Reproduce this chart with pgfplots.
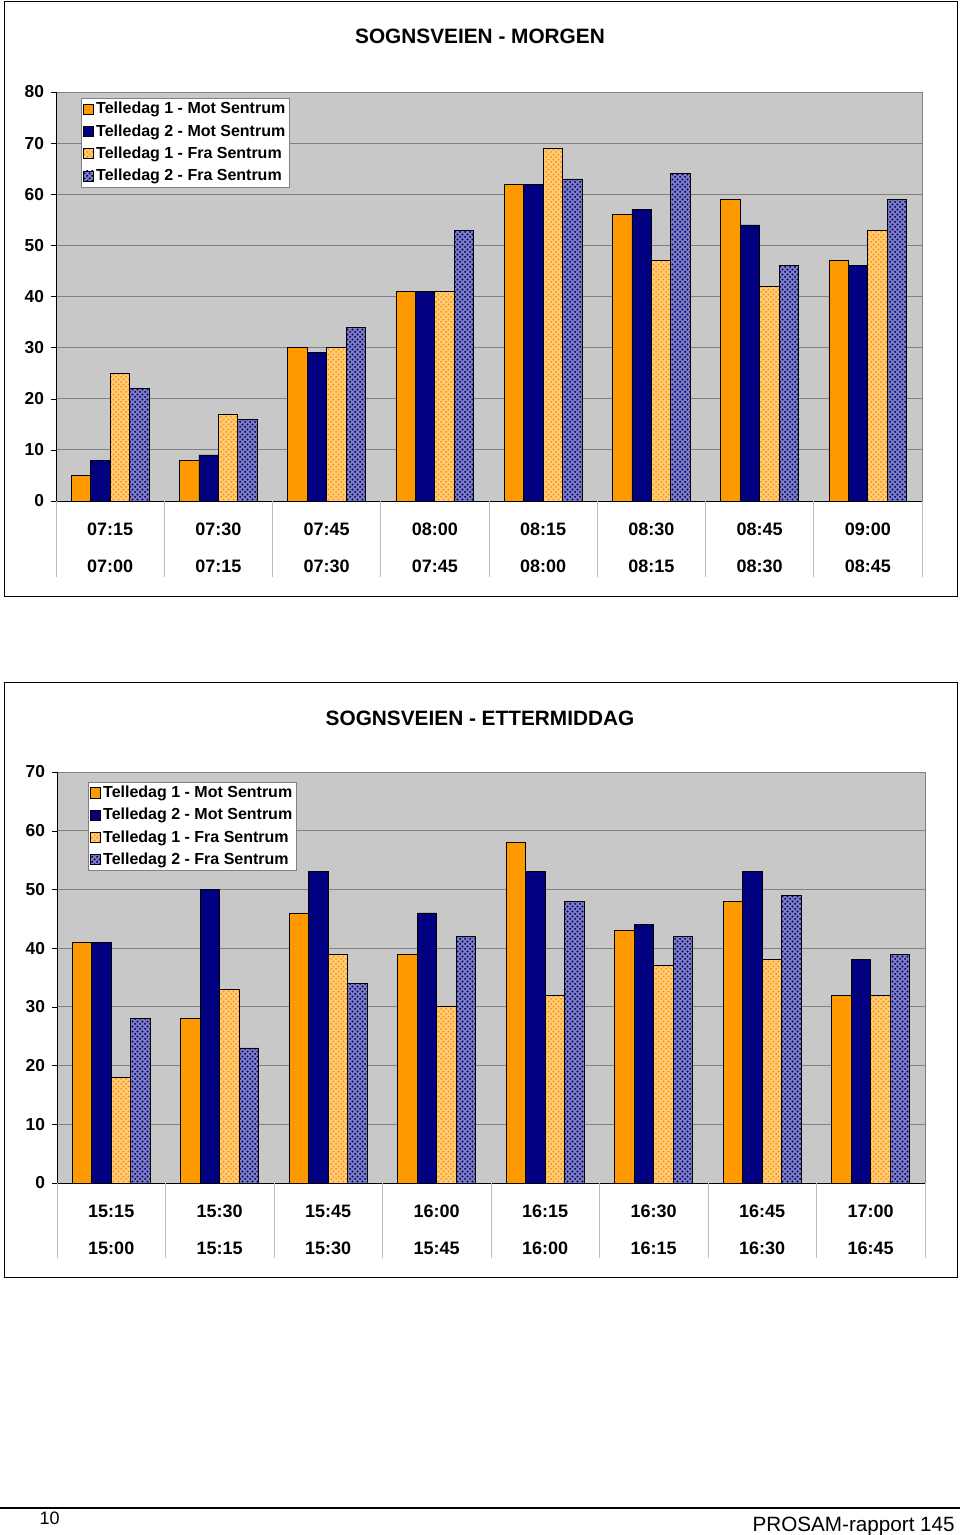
\documentclass[border=0pt]{standalone}
\usepackage{fontspec}
\setmainfont{Liberation Sans}
\usepackage{pgfplots}
\pgfplotsset{compat=1.18}
\usetikzlibrary{patterns.meta}
\definecolor{orangeX}{RGB}{255,153,0}
\definecolor{navyX}{RGB}{0,0,128}
\definecolor{bgX}{RGB}{200,200,200}
\definecolor{sepX}{RGB}{190,190,190}
\tikzdeclarepattern{
  name=mydots,
  type=uncolored,
  bounding box={(0pt,0pt) and (3.6pt,3.6pt)},
  tile size={(3.6pt,3.6pt)},
  code={\fill (0.9pt,0.9pt) circle (0.88pt); \fill (2.7pt,2.7pt) circle (0.88pt);}
}
\pgfplotsset{
  sqlegend/.style={legend image code/.code={\draw[##1] (0pt,-3.8pt) rectangle (7.6pt,3.8pt);}},
  mot1/.style={fill=orangeX, draw=black, line width=0.6pt},
  mot2/.style={fill=navyX, draw=black, line width=0.6pt},
  fra1/.style={fill=orangeX!50, draw=black, line width=0.6pt, postaction={pattern=mydots, pattern color=orangeX}},
  fra2/.style={fill=navyX!50, draw=black, line width=0.6pt, postaction={pattern=mydots, pattern color=navyX}},
  prosam/.style={
    scale only axis,
    ybar=0pt, bar width=14.6pt,
    xmin=-0.5, xmax=7.5, ymin=0,
    xtick={0,...,7},
    major x tick style={draw=none},
    ytick pos=left,
    axis background/.style={fill=bgX},
    axis line style={draw=gray},
    ymajorgrids, grid style={gray, line width=0.6pt},
    ytick style={black},
    tick align=outside, major tick length=4pt,
    clip=false,
    /pgf/number format/assume math mode=true,
    yticklabel style={font=\bfseries\fontsize{13}{15}\selectfont, xshift=-1.5pt},
    xticklabel style={align=center, font=\bfseries\fontsize{13.5}{27.75}\selectfont, yshift=-8.75pt},
    legend cell align=left,
    legend style={draw=gray, fill=white, font=\bfseries\fontsize{12}{14}\selectfont,
      inner sep=1.5pt, row sep=3.5pt, nodes={inner sep=1.5pt}},
    every axis plot/.append style={sqlegend},
  }
}
\begin{document}
\begin{tikzpicture}[x=0.75pt,y=0.75pt]
\path[use as bounding box] (0,0) rectangle (960,1535);
% frames
\draw[line width=0.75pt] (4,1533) rectangle (957,938);
\draw[line width=0.75pt] (4,852) rectangle (957,257);
% titles
\node[font=\bfseries\fontsize{15.6}{18}\selectfont] at (480,1499) {SOGNSVEIEN - MORGEN};
\node[font=\bfseries\fontsize{15.6}{18}\selectfont] at (480,817) {SOGNSVEIEN - ETTERMIDDAG};

\begin{axis}[prosam,
  at={(42pt,775.5pt)}, anchor=south west,
  width=649.5pt, height=306.75pt,
  ymax=80, ytick={0,10,...,80},
  xticklabels={{07:15\\07:00},{07:30\\07:15},{07:45\\07:30},{08:00\\07:45},{08:15\\08:00},{08:30\\08:15},{08:45\\08:30},{09:00\\08:45}},
  legend style={at={(0.0289,0.985)}, anchor=north west},
]
\addplot[mot1] coordinates {(0,5)(1,8)(2,30)(3,41)(4,62)(5,56)(6,59)(7,47)};
\addplot[mot2] coordinates {(0,8)(1,9)(2,29)(3,41)(4,62)(5,57)(6,54)(7,46)};
\addplot[fra1] coordinates {(0,25)(1,17)(2,30)(3,41)(4,69)(5,47)(6,42)(7,53)};
\addplot[fra2] coordinates {(0,22)(1,16)(2,34)(3,53)(4,63)(5,64)(6,46)(7,59)};
\legend{Telledag 1 - Mot Sentrum,Telledag 2 - Mot Sentrum,Telledag 1 - Fra Sentrum,Telledag 2 - Fra Sentrum}
\draw[black] (axis cs:-0.5,0) -- (axis cs:-0.5,80);
\draw[black] (axis cs:-0.5,0) -- (axis cs:7.5,0);
\draw[sepX] (axis cs:-0.5,0) -- ++(0pt,-57pt);
\draw[sepX] (axis cs:0.5,0) -- ++(0pt,-57pt);
\draw[sepX] (axis cs:1.5,0) -- ++(0pt,-57pt);
\draw[sepX] (axis cs:2.5,0) -- ++(0pt,-57pt);
\draw[sepX] (axis cs:3.5,0) -- ++(0pt,-57pt);
\draw[sepX] (axis cs:4.5,0) -- ++(0pt,-57pt);
\draw[sepX] (axis cs:5.5,0) -- ++(0pt,-57pt);
\draw[sepX] (axis cs:6.5,0) -- ++(0pt,-57pt);
\draw[sepX] (axis cs:7.5,0) -- ++(0pt,-57pt);
\end{axis}

\begin{axis}[prosam,
  at={(42.75pt,264pt)}, anchor=south west,
  width=651pt, height=308.25pt,
  ymax=70, ytick={0,10,...,70},
  xticklabels={{15:15\\15:00},{15:30\\15:15},{15:45\\15:30},{16:00\\15:45},{16:15\\16:00},{16:30\\16:15},{16:45\\16:30},{17:00\\16:45}},
  legend style={at={(0.0357,0.976)}, anchor=north west},
]
\addplot[mot1] coordinates {(0,41)(1,28)(2,46)(3,39)(4,58)(5,43)(6,48)(7,32)};
\addplot[mot2] coordinates {(0,41)(1,50)(2,53)(3,46)(4,53)(5,44)(6,53)(7,38)};
\addplot[fra1] coordinates {(0,18)(1,33)(2,39)(3,30)(4,32)(5,37)(6,38)(7,32)};
\addplot[fra2] coordinates {(0,28)(1,23)(2,34)(3,42)(4,48)(5,42)(6,49)(7,39)};
\legend{Telledag 1 - Mot Sentrum,Telledag 2 - Mot Sentrum,Telledag 1 - Fra Sentrum,Telledag 2 - Fra Sentrum}
\draw[black] (axis cs:-0.5,0) -- (axis cs:-0.5,70);
\draw[black] (axis cs:-0.5,0) -- (axis cs:7.5,0);
\draw[sepX] (axis cs:-0.5,0) -- ++(0pt,-56.25pt);
\draw[sepX] (axis cs:0.5,0) -- ++(0pt,-56.25pt);
\draw[sepX] (axis cs:1.5,0) -- ++(0pt,-56.25pt);
\draw[sepX] (axis cs:2.5,0) -- ++(0pt,-56.25pt);
\draw[sepX] (axis cs:3.5,0) -- ++(0pt,-56.25pt);
\draw[sepX] (axis cs:4.5,0) -- ++(0pt,-56.25pt);
\draw[sepX] (axis cs:5.5,0) -- ++(0pt,-56.25pt);
\draw[sepX] (axis cs:6.5,0) -- ++(0pt,-56.25pt);
\draw[sepX] (axis cs:7.5,0) -- ++(0pt,-56.25pt);
\end{axis}

% footer
\draw[line width=1.5pt] (0,27) -- (960,27);
\node[anchor=base west, font=\fontsize{13.5}{16}\selectfont] at (35,11) {10};
\node[anchor=base east, inner sep=0pt, font=\fontsize{15.5}{18}\selectfont] at (955,3) {PROSAM-rapport 145};
\end{tikzpicture}
\end{document}
